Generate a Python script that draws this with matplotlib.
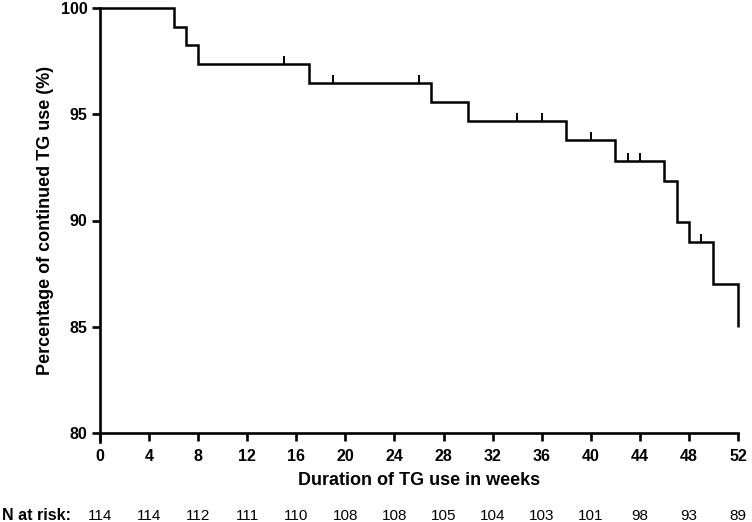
import numpy as np
import matplotlib
matplotlib.use("Agg")
import matplotlib.pyplot as plt

plt.rcParams['font.family'] = ['Liberation Sans', 'DejaVu Sans']

# Kaplan-Meier step data (weeks, % continued)
step_times = [0, 6, 7, 8, 17, 27, 30, 38, 42, 46, 47, 48, 50, 52]
step_surv = [100, 99.12, 98.25, 97.37, 96.49, 95.60, 94.69, 93.77, 92.81, 91.86, 89.93, 88.97, 87.00, 85.00]
censor_times = [15, 19, 26, 34, 36, 40, 43, 44, 49]

risk_weeks = [0, 4, 8, 12, 16, 20, 24, 28, 32, 36, 40, 44, 48, 52]
n_at_risk = [114, 114, 112, 111, 110, 108, 108, 105, 104, 103, 101, 98, 93, 89]

fig = plt.figure(figsize=(7.52, 5.22), dpi=100)
ax = fig.add_axes([100/752, (522-433)/522, 638/752, 425/522])

# step curve
xs = [step_times[0]]
ys = [step_surv[0]]
for i in range(1, len(step_times)):
    xs += [step_times[i], step_times[i]]
    ys += [step_surv[i-1], step_surv[i]]
ax.plot(xs, ys, color='black', lw=1.8, solid_joinstyle='miter', solid_capstyle='butt', clip_on=False)

# censor ticks
def level_at(t):
    idx = np.searchsorted(step_times, t, side='right') - 1
    return step_surv[idx]
tick_h = 0.38
for t in censor_times:
    lv = level_at(t)
    ax.plot([t, t], [lv, lv + tick_h], color='black', lw=1.4, solid_capstyle='butt')

ax.set_xlim(0, 52)
ax.set_ylim(80, 100)
ax.set_xticks(risk_weeks)
ax.set_yticks([80, 85, 90, 95, 100])
for s in ['top', 'right']:
    ax.spines[s].set_visible(False)
for s in ['left', 'bottom']:
    ax.spines[s].set_linewidth(1.9)
ax.spines['left'].set_bounds(79.6, 100)
ax.tick_params(axis='both', direction='out', length=6, width=1.9, labelsize=11.5)
ax.tick_params(axis='x', pad=5.5)
ax.tick_params(axis='y', pad=3)
for lab in ax.get_xticklabels() + ax.get_yticklabels():
    lab.set_fontweight('bold')

ax.set_xlabel('Duration of TG use in weeks', fontsize=13, fontweight='bold', labelpad=6)
ax.set_ylabel('Percentage of continued TG use (%)', fontsize=13, fontweight='bold', labelpad=5)

# number at risk row
for w, n in zip(risk_weeks, n_at_risk):
    ax.text(w, -0.1946, str(n), transform=ax.get_xaxis_transform(), ha='center', va='center',
            fontsize=11)
fig.text(2/752, 1 - 515.7/522, 'N at risk:', fontsize=11.5, fontweight='bold', ha='left', va='center')

fig.savefig('out.png', dpi=100)
